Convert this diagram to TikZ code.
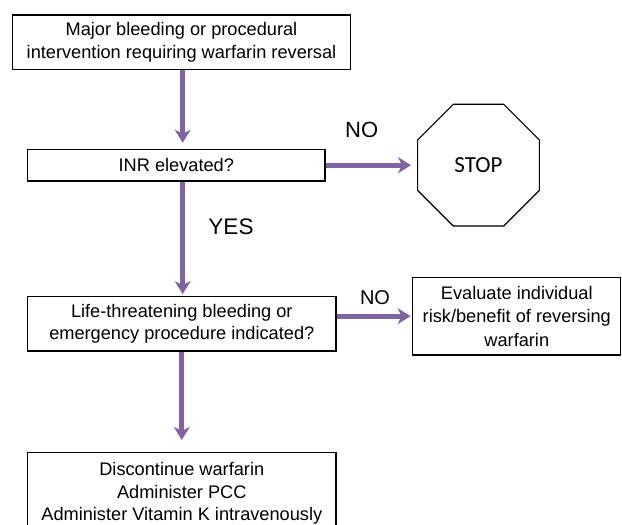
\documentclass[tikz,border=0pt]{standalone}
\usepackage{fontspec}
\setmainfont{Liberation Sans}
\newfontfamily\stopfont{Carlito}
\usetikzlibrary{arrows.meta,shapes.geometric}
\definecolor{flowpurple}{RGB}{128,100,162}
\tikzset{
  stepbox/.style={draw=black,line width=1.2pt,fill=white,align=center,inner sep=0pt,
    font=\fontsize{18.2}{22.5}\selectfont},
  flow/.style={draw=flowpurple,line width=5.3pt,
    -{Stealth[length=13pt,width=16pt,inset=4pt]}},
  answer/.style={font=\fontsize{22}{26}\selectfont}
}
\begin{document}
\begin{tikzpicture}[x=1pt,y=-1pt]
				\useasboundingbox (0,0) rectangle (622,525);
				\path
				(181.5,42.2) node[stepbox,minimum width=338.4pt,minimum height=54.3pt] (major)
				{Major bleeding or procedural\\intervention requiring warfarin reversal}
				(176.3,165.2) node[stepbox,minimum width=297.3pt,minimum height=31.7pt] (inr) {INR elevated?}
				(478.5,165.2) node[draw=black,line width=1.2pt,regular polygon,regular polygon sides=8,
				minimum size=131.8pt,inner sep=0pt] (stop) {\stopfont\fontsize{23}{27}\selectfont STOP}
				(181.8,323.8) node[stepbox,minimum width=308.3pt,minimum height=54.3pt] (life)
				{Life-threatening bleeding or\\emergency procedure indicated?}
				(516.8,316.2) node[stepbox,minimum width=208pt,minimum height=77.7pt,
				font=\fontsize{18.2}{23.5}\selectfont] (eval)
				{Evaluate individual\\risk/benefit of reversing\\warfarin}
				(181.8,493.5) node[stepbox,minimum width=308.3pt,minimum height=82pt] (treat)
				{Discontinue warfarin\\Administer PCC\\Administer Vitamin K intravenously}
				;
				\draw[flow,shorten >=6pt] (major.south -| 182.7,0) -- (inr.north -| 182.7,0);
				\draw[flow,shorten >=2pt] (inr.south -| 182.7,0) -- (life.north -| 182.7,0);
				\draw[flow,shorten >=12pt] (life.south) -- (treat.north);
				\draw[flow,shorten >=6pt] (inr.east) -- (inr.east -| stop.west);
				\draw[flow,shorten >=1.6pt] (life.east |- eval.west) -- (eval.west);
				\node[answer] (no1) at (361.7,130) {NO};
				\node[answer,font=\fontsize{22.5}{26}\selectfont] (yes) at (231,226.7) {YES};
				\node[answer,font=\fontsize{20}{24}\selectfont] (no2) at (375,298) {NO};
			\end{tikzpicture}
\end{document}
